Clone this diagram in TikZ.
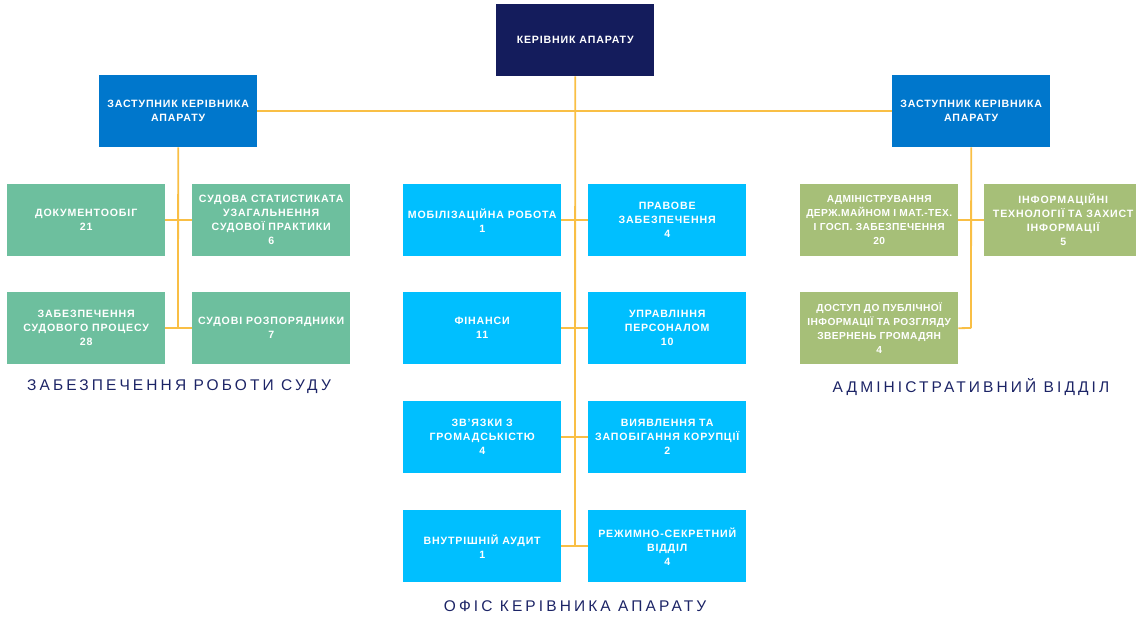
\documentclass[tikz,border=0pt]{standalone}
\usepackage{fontspec}
\setmainfont{Liberation Sans}
\newfontfamily\boxfont[LetterSpace=8]{Liberation Sans}
\newfontfamily\narrowfont[LetterSpace=4]{Liberation Sans}
\newfontfamily\capfont[LetterSpace=20]{Liberation Sans}
\definecolor{navy}{HTML}{141C5C}
\definecolor{deputy}{HTML}{0077CC}
\definecolor{mint}{HTML}{6DBF9E}
\definecolor{sky}{HTML}{00BFFF}
\definecolor{olive}{HTML}{A6BF78}
\definecolor{wire}{HTML}{F9BF45}
\definecolor{captxt}{HTML}{1C2466}
\tikzset{
  unit/.style={anchor=north west, minimum width=158pt, minimum height=72pt, inner sep=0pt,
    text=white, align=center, font=\boxfont\bfseries\fontsize{10.6}{14}\selectfont},
  headbox/.style={unit, fill=navy},
  depbox/.style={unit, fill=deputy},
  mintbox/.style={unit, fill=mint},
  skybox/.style={unit, fill=sky},
  olivebox/.style={unit, fill=olive},
  narrowtext/.style={font=\narrowfont\bfseries\fontsize{10.2}{14}\selectfont},
  wireline/.style={draw=wire, line width=1.8pt},
  caption/.style={text=captxt, font=\capfont\fontsize{15.5}{18}\selectfont, inner sep=0pt}
}
\begin{document}
\begin{tikzpicture}[x=1pt,y=-1pt]
\useasboundingbox (0,0) rectangle (1136,619);
% wires first (behind boxes)
\coordinate (cTop) at (575,76);
\coordinate (cEnd) at (575,545);
\coordinate (lTop) at (178,147);
\coordinate (lEnd) at (178,328);
\coordinate (rTop) at (971,147);
\coordinate (rEnd) at (971,328);
% nodes
\node[headbox] (head) at (496,4) {КЕРІВНИК АПАРАТУ};
\node[depbox] (depL) at (99,75) {ЗАСТУПНИК КЕРІВНИКА\\АПАРАТУ};
\node[depbox] (depR) at (892,75) {ЗАСТУПНИК КЕРІВНИКА\\АПАРАТУ};
% left group
\node[mintbox] (doc) at (7,184) {ДОКУМЕНТООБІГ\\21};
\node[mintbox] (stat) at (192,184) {СУДОВА СТАТИСТИКАТА\\УЗАГАЛЬНЕННЯ\\СУДОВОЇ ПРАКТИКИ\\6};
\node[mintbox] (proc) at (7,292) {ЗАБЕЗПЕЧЕННЯ\\СУДОВОГО ПРОЦЕСУ\\28};
\node[mintbox] (rozp) at (192,292) {СУДОВІ РОЗПОРЯДНИКИ\\7};
% center group
\node[skybox] (mob) at (403,184) {МОБІЛІЗАЦІЙНА РОБОТА\\1};
\node[skybox] (prav) at (588,184) {ПРАВОВЕ\\ЗАБЕЗПЕЧЕННЯ\\4};
\node[skybox] (fin) at (403,292) {ФІНАНСИ\\11};
\node[skybox] (pers) at (588,292) {УПРАВЛІННЯ\\ПЕРСОНАЛОМ\\10};
\node[skybox] (zv) at (403,401) {ЗВ’ЯЗКИ З\\ГРОМАДСЬКІСТЮ\\4};
\node[skybox] (kor) at (588,401) {ВИЯВЛЕННЯ ТА\\ЗАПОБІГАННЯ КОРУПЦІЇ\\2};
\node[skybox] (aud) at (403,510) {ВНУТРІШНІЙ АУДИТ\\1};
\node[skybox] (sek) at (588,510) {РЕЖИМНО-СЕКРЕТНИЙ\\ВІДДІЛ\\4};
% right group
\node[olivebox, narrowtext] (adm) at (800,184) {АДМІНІСТРУВАННЯ\\ДЕРЖ.МАЙНОМ І МАТ.-ТЕХ.\\І ГОСП. ЗАБЕЗПЕЧЕННЯ\\20};
\node[olivebox] (it) at (984,184) {ІНФОРМАЦІЙНІ\\ТЕХНОЛОГІЇ ТА ЗАХИСТ\\ІНФОРМАЦІЇ\\5};
\node[olivebox, narrowtext] (dost) at (800,292) {ДОСТУП ДО ПУБЛІЧНОЇ\\ІНФОРМАЦІЇ ТА РОЗГЛЯДУ\\ЗВЕРНЕНЬ ГРОМАДЯН\\4};
% captions
\node[caption] (capL) at (179,387) {ЗАБЕЗПЕЧЕННЯ РОБОТИ СУДУ};
\node[caption] (capR) at (971,387) {АДМІНІСТРАТИВНИЙ ВІДДІЛ};
\node[caption] (capC) at (575,606) {ОФІС КЕРІВНИКА АПАРАТУ};
% wires
\draw[wireline] (depL.east) -- (depR.west);
\draw[wireline] (head.south) -- (cEnd);
\draw[wireline] (depL.south) -- (lEnd);
\draw[wireline] (depR.south) -- (rEnd);
\draw[wireline] (doc.east) -- (stat.west);
\draw[wireline] (proc.east) -- (rozp.west);
\draw[wireline] (mob.east) -- (prav.west);
\draw[wireline] (fin.east) -- (pers.west);
\draw[wireline] (zv.east) -- (kor.west);
\draw[wireline] (aud.east) -- (sek.west);
\draw[wireline] (adm.east) -- (it.west);
\draw[wireline] (dost.east) -- (rEnd);
\end{tikzpicture}
\end{document}
